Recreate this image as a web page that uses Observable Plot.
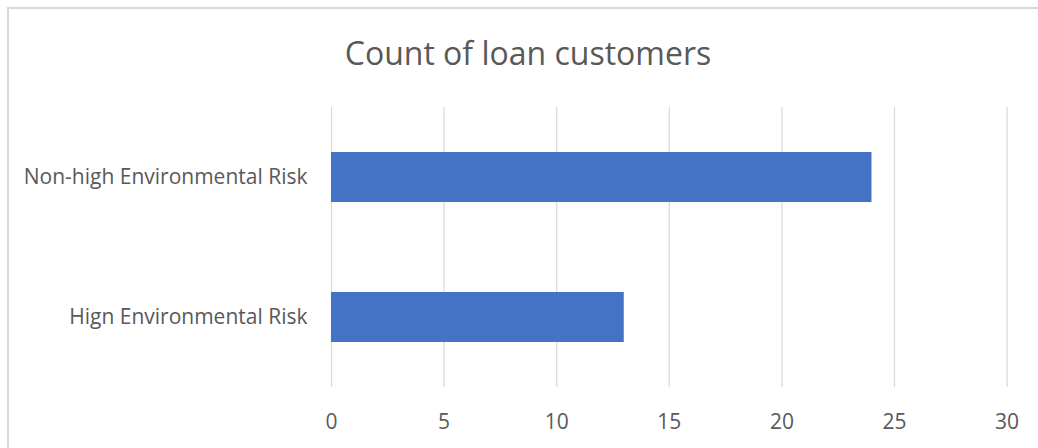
<!DOCTYPE html>
<html>
<head>
<meta charset="utf-8">
<script src="https://cdn.jsdelivr.net/npm/d3@7"></script>
<script src="https://cdn.jsdelivr.net/npm/@observablehq/plot@0.6"></script>
<style>
  html, body { margin: 0; padding: 0; background: #fff; }
  #wrap { position: relative; width: 1038px; height: 448px; overflow: hidden; background: #fff; }
  #frame { position: absolute; left: 7px; top: 7px; width: 1100px; height: 500px; border: 2px solid #d9d9d9; box-sizing: border-box; }
  #title { position: absolute; left: 0; top: 32px; width: 1056px; text-align: center; font-family: "Open Sans", sans-serif; font-size: 32px; line-height: 42px; color: #595959; }
  #chart { position: absolute; left: 0; top: 0; }
</style>
</head>
<body>
<div id="wrap">
  <div id="frame"></div>
  <div id="chart"></div>
  <div id="title">Count of loan customers</div>
</div>
<script>
const categories = ["Non-high Environmental Risk", "Hign Environmental Risk"];
const values = [24, 13];
const xTicks = [0, 5, 10, 15, 20, 25, 30];

const data = categories.map((c, i) => ({category: c, value: values[i]}));

const svg = Plot.plot({
  width: 1038,
  height: 448,
  marginLeft: 331,
  marginRight: 31.4,
  marginTop: 107,
  marginBottom: 61,
  style: {fontFamily: "'Open Sans', sans-serif", fontSize: "21px", color: "#595959", background: "transparent", overflow: "visible"},
  x: {domain: [0, 30], ticks: xTicks},
  y: {domain: categories, paddingInner: 0.643, paddingOuter: 0.3215},
  marks: [
    Plot.gridX(xTicks, {stroke: "#d9d9d9", strokeOpacity: 1, strokeWidth: 1.2}),
    Plot.barX(data, {x: "value", y: "category", fill: "#4472C4"}),
    Plot.axisX(xTicks, {tickSize: 0, tickPadding: 27, label: null, fill: "#595959"}),
    Plot.axisY({tickSize: 0, tickPadding: 24, label: null, fill: "#595959"})
  ]
});
document.getElementById("chart").appendChild(svg);
</script>
</body>
</html>
